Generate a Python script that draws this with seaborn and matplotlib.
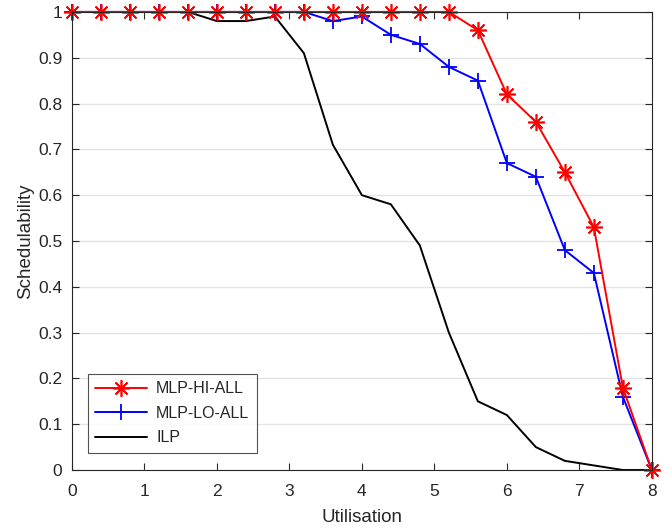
import matplotlib
matplotlib.use('Agg')
import matplotlib.pyplot as plt
import seaborn as sns
import numpy as np

sns.set_style('ticks')
plt.rcParams['font.family'] = ['Liberation Sans', 'DejaVu Sans']

# data
utilisation = [0, 0.4, 0.8, 1.2, 1.6, 2.0, 2.4, 2.8, 3.2, 3.6, 4.0,
               4.4, 4.8, 5.2, 5.6, 6.0, 6.4, 6.8, 7.2, 7.6, 8.0]
mlp_hi_all = [1, 1, 1, 1, 1, 1, 1, 1, 1, 1, 1,
              1, 1, 1, 0.96, 0.82, 0.76, 0.65, 0.53, 0.18, 0]
mlp_lo_all = [1, 1, 1, 1, 1, 1, 1, 1, 1, 0.98, 0.99,
              0.95, 0.93, 0.88, 0.85, 0.67, 0.64, 0.48, 0.43, 0.16, 0]
ilp = [1, 1, 1, 1, 1, 0.98, 0.98, 0.99, 0.91, 0.71, 0.60,
       0.58, 0.49, 0.30, 0.15, 0.12, 0.05, 0.02, 0.01, 0, 0]

fig = plt.figure(figsize=(6.72, 5.29), dpi=100)
ax = fig.add_axes([0.107, 0.1115, 0.863, 0.866])

asterisk = (8, 2, 0)
sns.lineplot(x=utilisation, y=ilp, ax=ax, color='black', linewidth=1.4, label='ILP')
sns.lineplot(x=utilisation, y=mlp_lo_all, ax=ax, color='#0000ff', marker='+',
             markersize=11, mec='#0000ff', mew=1.3, linewidth=1.4, label='MLP-LO-ALL',
             clip_on=False)
sns.lineplot(x=utilisation, y=mlp_hi_all, ax=ax, color='#ff0000', marker=asterisk,
             markersize=12, mec='#ff0000', mew=1.2, linewidth=1.4, label='MLP-HI-ALL',
             clip_on=False)

ax.set_xlim(0, 8)
ax.set_ylim(0, 1)
ax.set_xticks(np.arange(0, 9, 1))
ax.set_yticks(np.arange(0, 1.01, 0.1))
ax.set_yticklabels(['0', '0.1', '0.2', '0.3', '0.4', '0.5', '0.6', '0.7', '0.8', '0.9', '1'])
ax.yaxis.grid(True, color='#e3e3e3', linewidth=1)
ax.set_axisbelow(True)
ax.tick_params(direction='in', top=True, right=True, labelsize=12.5, length=5,
               color='#262626', labelcolor='#262626', pad=7)
ax.tick_params(axis='x', pad=10)
for s in ax.spines.values():
    s.set_visible(True)
    s.set_color('#262626')
    s.set_linewidth(0.8)

ax.set_xlabel('Utilisation', fontsize=13.5, color='#262626', labelpad=7)
ax.set_ylabel('Schedulability', fontsize=13.5, color='#262626', labelpad=3)

handles, labels = ax.get_legend_handles_labels()
leg = ax.legend(handles[::-1], labels[::-1], loc='lower left',
                bbox_to_anchor=(0.027, 0.038), fontsize=11.5,
                frameon=True, fancybox=False, edgecolor='#262626',
                handlelength=3.3, handletextpad=0.55, borderpad=0.45,
                labelspacing=0.6, borderaxespad=0)
leg.get_frame().set_linewidth(0.8)

fig.savefig('out.png', dpi=100)
